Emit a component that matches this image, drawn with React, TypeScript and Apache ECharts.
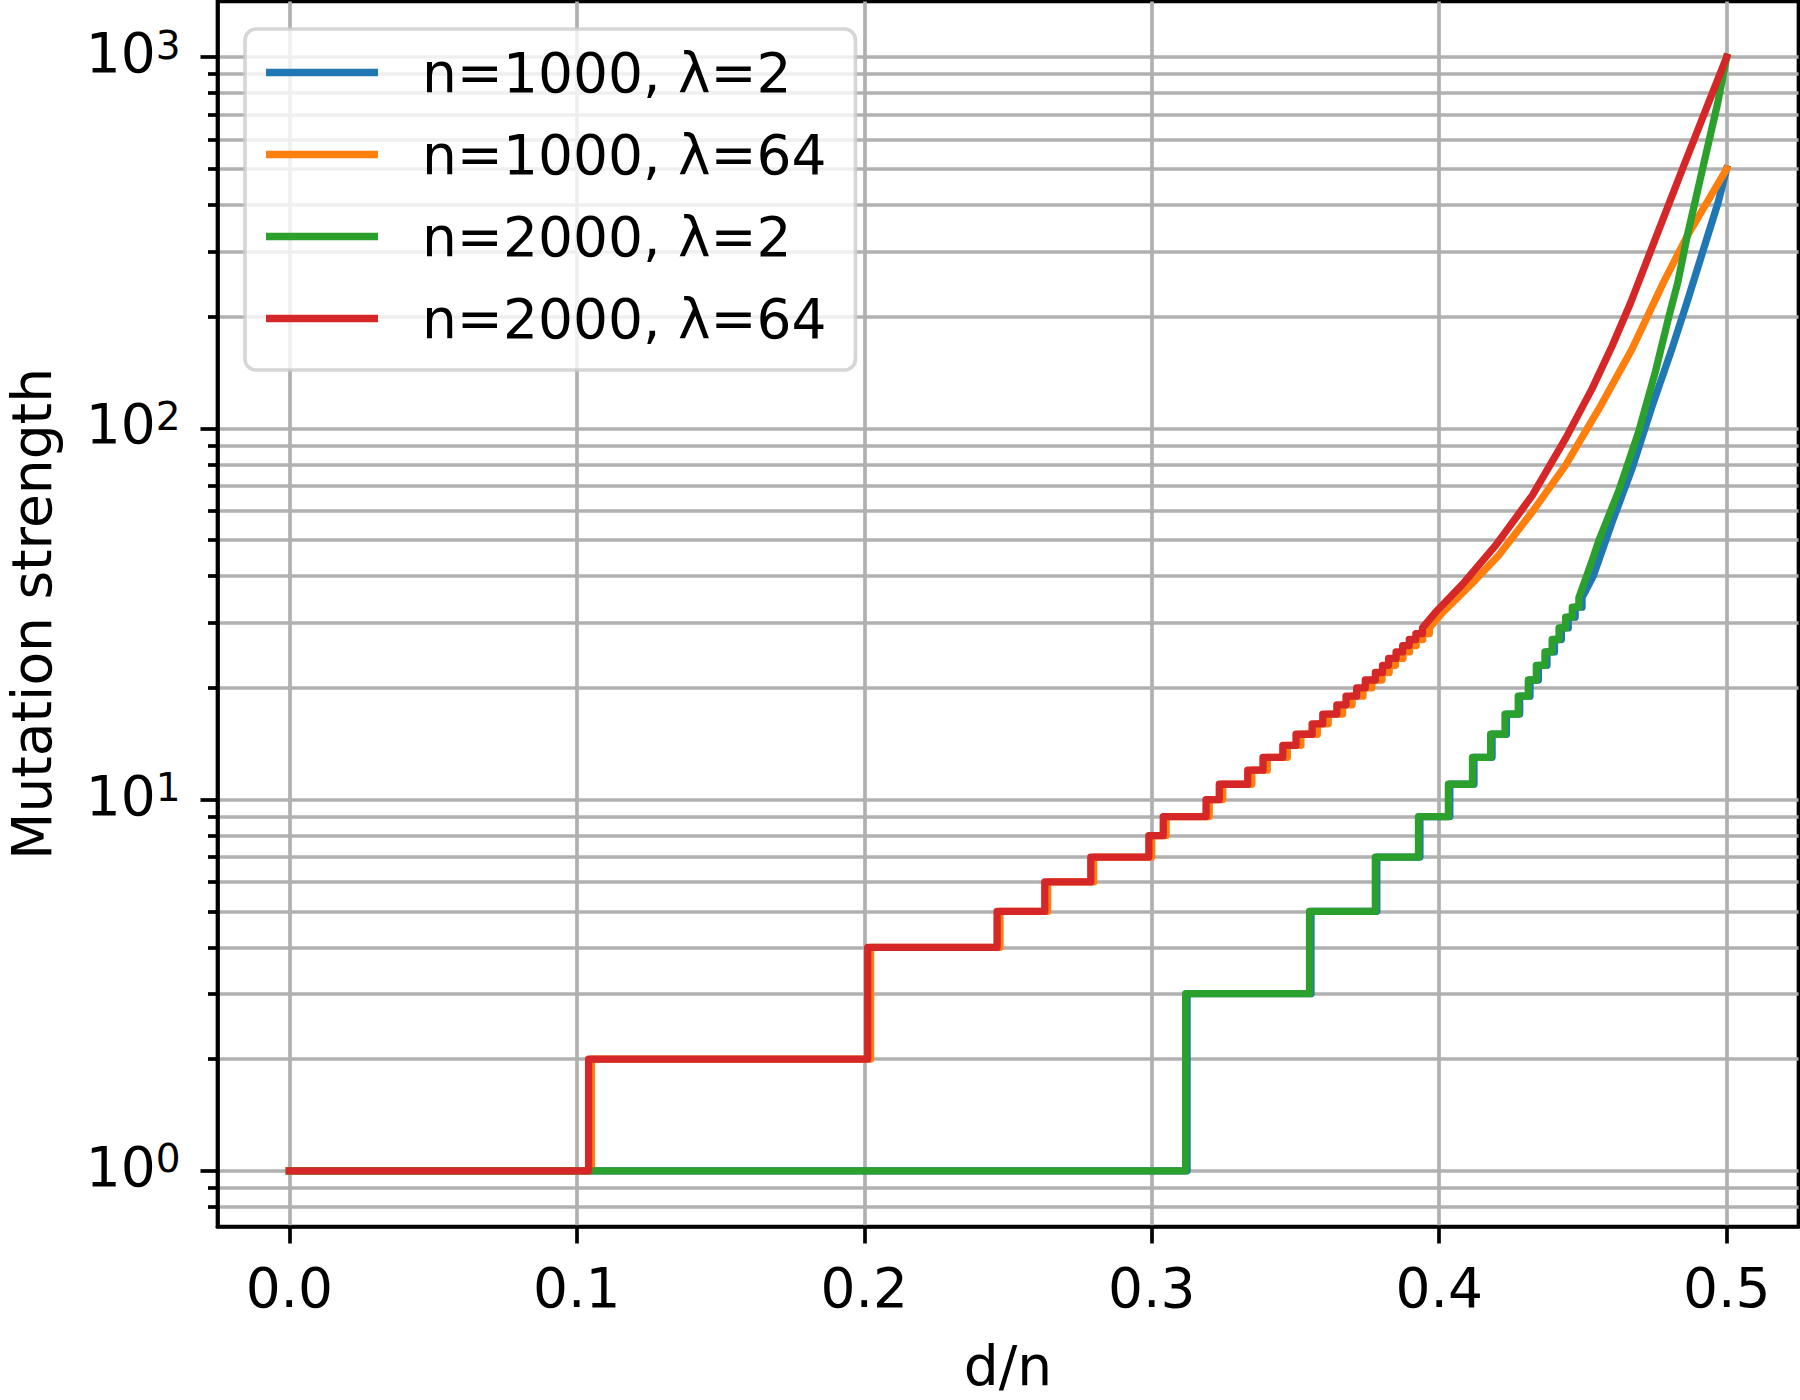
import React, { useEffect, useRef } from 'react';
import * as echarts from 'echarts';

// ---------- data ----------
const seriesNames = ['n=1000, λ=2', 'n=1000, λ=64', 'n=2000, λ=2', 'n=2000, λ=64'];
const seriesColors = ['#1f77b4', '#ff7f0e', '#2ca02c', '#d62728'];

// step change points [d/n, strength]: value holds from this d/n until the next point
const blueSteps: number[][] = [
  [0, 1], [0.3123, 3], [0.3554, 5], [0.3783, 7], [0.3933, 9], [0.4037, 11], [0.4121, 13],
  [0.4184, 15], [0.4234, 17], [0.428, 19], [0.4316, 21], [0.4345, 23], [0.4375, 25],
  [0.4401, 27], [0.4425, 29], [0.4449, 31], [0.4473, 33], [0.4497, 35],
];
const blueCurve: number[][] = [
  [0.4536, 40], [0.4602, 56], [0.4671, 78], [0.4741, 115], [0.481, 164], [0.4862, 218.6],
  [0.4898, 268.6], [0.4934, 330], [0.497, 405], [0.5, 500],
];

const orangeSteps: number[][] = [
  [0, 1], [0.1051, 2], [0.2022, 4], [0.2472, 5], [0.2638, 6], [0.2798, 7], [0.3, 8],
  [0.305, 9], [0.32, 10], [0.3247, 11], [0.3348, 12], [0.3402, 13], [0.3472, 14],
  [0.3519, 15], [0.3576, 16], [0.3614, 17], [0.3664, 18], [0.3697, 19], [0.3735, 20],
  [0.3766, 21], [0.3801, 22], [0.3826, 23], [0.3848, 24], [0.3874, 25], [0.3897, 26],
  [0.392, 27], [0.3943, 28], [0.3966, 29],
];
const orangeCurve: number[][] = [
  [0.4013, 32], [0.4111, 38], [0.4208, 45.6], [0.4324, 59.6], [0.444, 79.6], [0.4556, 113],
  [0.4671, 163.7], [0.478, 247], [0.4863, 330], [0.5, 500],
];

const greenSteps: number[][] = [
  [0, 1], [0.3118, 3], [0.3549, 5], [0.3778, 7], [0.3928, 9], [0.4032, 11], [0.4116, 13],
  [0.4179, 15], [0.4229, 17], [0.4275, 19], [0.431, 21], [0.4338, 23], [0.4368, 25],
  [0.4393, 27], [0.4417, 29], [0.444, 31], [0.4463, 33], [0.4486, 35],
];
const greenCurve: number[][] = [
  [0.4532, 44], [0.4556, 50], [0.4625, 68], [0.4694, 98], [0.4752, 142], [0.4799, 200],
  [0.483, 247], [0.4863, 330], [0.4916, 499], [0.4969, 753], [0.5, 1000],
];

const redSteps: number[][] = [
  [0, 1], [0.1041, 2], [0.2012, 4], [0.2462, 5], [0.2628, 6], [0.2788, 7], [0.299, 8],
  [0.304, 9], [0.3189, 10], [0.3235, 11], [0.3334, 12], [0.3387, 13], [0.3456, 14],
  [0.3502, 15], [0.3558, 16], [0.3595, 17], [0.3644, 18], [0.3676, 19], [0.3713, 20],
  [0.3743, 21], [0.3778, 22], [0.3803, 23], [0.3824, 24], [0.385, 25], [0.3873, 26],
  [0.3896, 27], [0.3919, 28], [0.3942, 29],
];
const redCurve: number[][] = [
  [0.3988, 32], [0.4081, 38], [0.4197, 48.5], [0.4324, 66], [0.444, 94], [0.4532, 128],
  [0.4602, 167], [0.4666, 218], [0.4756, 330], [0.4846, 499], [0.4937, 753], [0.5, 1000],
];

const xTicks = [0, 0.1, 0.2, 0.3, 0.4, 0.5];
const yMajorTicks = [1, 10, 100, 1000];
const yMinorTicks = [
  0.8, 0.9, 2, 3, 4, 5, 6, 7, 8, 9, 20, 30, 40, 50, 60, 70, 80, 90,
  200, 300, 400, 500, 600, 700, 800, 900,
];
const xLabel = 'd/n';
const yLabel = 'Mutation strength';

// ---------- helpers ----------
function buildPath(steps: number[][], curve: number[][]): number[][] {
  const pts: number[][] = [];
  steps.forEach((p, i) => {
    pts.push([p[0], p[1]]);
    if (i + 1 < steps.length) pts.push([steps[i + 1][0], p[1]]);
  });
  curve.forEach((p) => pts.push([p[0], p[1]]));
  return pts;
}

const FONT = 'DejaVu Sans';
const GRID_COLOR = '#b0b0b0';
const LINE_W = 7.3;
const SPINE_W = 3.7;

export default function App() {
  const ref = useRef<HTMLDivElement>(null);

  useEffect(() => {
    document.body.style.margin = '0';
    if (!ref.current) return;
    const chart = echarts.init(ref.current, undefined, { renderer: 'svg' });

    const allData = [
      buildPath(blueSteps, blueCurve),
      buildPath(orangeSteps, orangeCurve),
      buildPath(greenSteps, greenCurve),
      buildPath(redSteps, redCurve),
    ];

    const yMin = Math.pow(10, -0.15);
    const yMax = Math.pow(10, 3.15);

    const option: any = {
      animation: false,
      backgroundColor: '#ffffff',
      textStyle: { fontFamily: FONT, color: '#000' },
      grid: {
        left: 217.5,
        right: 1.5,
        top: 1.5,
        bottom: 173.5,
        show: true,
        borderColor: '#000',
        borderWidth: SPINE_W,
        backgroundColor: 'transparent',
        containLabel: false,
        outerBoundsMode: 'none',
      },
      legend: {
        orient: 'vertical',
        left: 245,
        top: 29,
        icon: 'rect',
        itemWidth: 112,
        itemHeight: 7.5,
        itemGap: 27,
        padding: [16, 29, 24, 21],
        backgroundColor: 'rgba(255,255,255,0.8)',
        borderColor: 'rgba(204,204,204,0.8)',
        borderWidth: SPINE_W,
        borderRadius: 11,
        textStyle: {
          fontFamily: FONT,
          fontSize: 55,
          lineHeight: 55,
          color: '#000',
          padding: [0, 0, 0, 39],
        },
        data: seriesNames,
      },
      xAxis: {
        type: 'value',
        min: -0.025,
        max: 0.525,
        name: xLabel,
        nameLocation: 'middle',
        nameGap: 112,
        nameTextStyle: { fontFamily: FONT, fontSize: 55, color: '#000' },
        axisLine: { show: true, onZero: false, lineStyle: { color: '#000', width: SPINE_W } },
        axisTick: {
          show: true,
          inside: false,
          length: 17,
          customValues: xTicks,
          lineStyle: { color: '#000', width: SPINE_W },
        },
        axisLabel: {
          show: true,
          customValues: xTicks,
          margin: 34,
          fontFamily: FONT,
          fontSize: 55,
          color: '#000',
          formatter: (v: number) => v.toFixed(1),
        },
        splitLine: { show: true, lineStyle: { color: GRID_COLOR, width: SPINE_W } },
      },
      yAxis: [
        {
          type: 'log',
          logBase: 10,
          min: yMin,
          max: yMax,
          position: 'left',
          name: yLabel,
          nameLocation: 'middle',
          nameGap: 158,
          nameTextStyle: { fontFamily: FONT, fontSize: 55, color: '#000' },
          axisLine: { show: true, onZero: false, lineStyle: { color: '#000', width: SPINE_W } },
          axisTick: {
            show: true,
            inside: false,
            length: 17,
            customValues: yMajorTicks,
            lineStyle: { color: '#000', width: SPINE_W },
          },
          axisLabel: {
            show: true,
            customValues: yMajorTicks,
            margin: 37,
            padding: [0, 0, 8, 0],
            formatter: (v: number) => '{b|10}{s|' + Math.round(Math.log10(v)) + '}',
            rich: {
              b: {
                fontFamily: FONT, fontSize: 55, lineHeight: 55, color: '#000',
                verticalAlign: 'bottom', padding: [8, 0, 0, 0],
              },
              s: { fontFamily: FONT, fontSize: 39, lineHeight: 39, color: '#000', verticalAlign: 'top' },
            },
          },
          splitLine: { show: true, lineStyle: { color: GRID_COLOR, width: SPINE_W } },
        },
        {
          type: 'log',
          logBase: 10,
          min: yMin,
          max: yMax,
          position: 'left',
          offset: 0,
          axisLine: { show: false, onZero: false },
          axisTick: {
            show: true,
            inside: false,
            length: 9.5,
            customValues: yMinorTicks,
            lineStyle: { color: '#000', width: SPINE_W },
          },
          axisLabel: { show: false },
          splitLine: { show: true, lineStyle: { color: GRID_COLOR, width: SPINE_W } },
        },
      ],
      series: seriesNames.map((name, i) => ({
        name,
        type: 'line',
        xAxisIndex: 0,
        yAxisIndex: 0,
        data: allData[i],
        showSymbol: false,
        symbol: 'none',
        clip: true,
        itemStyle: { color: seriesColors[i] },
        lineStyle: { color: seriesColors[i], width: LINE_W, cap: 'square', join: 'round' },
        emphasis: { disabled: true },
      })),
    };

    chart.setOption(option);
    return () => {
      chart.dispose();
    };
  }, []);

  return (
    <div
      ref={ref}
      style={{ position: 'absolute', left: 0, top: 0, width: 1800, height: 1400 }}
    />
  );
}
